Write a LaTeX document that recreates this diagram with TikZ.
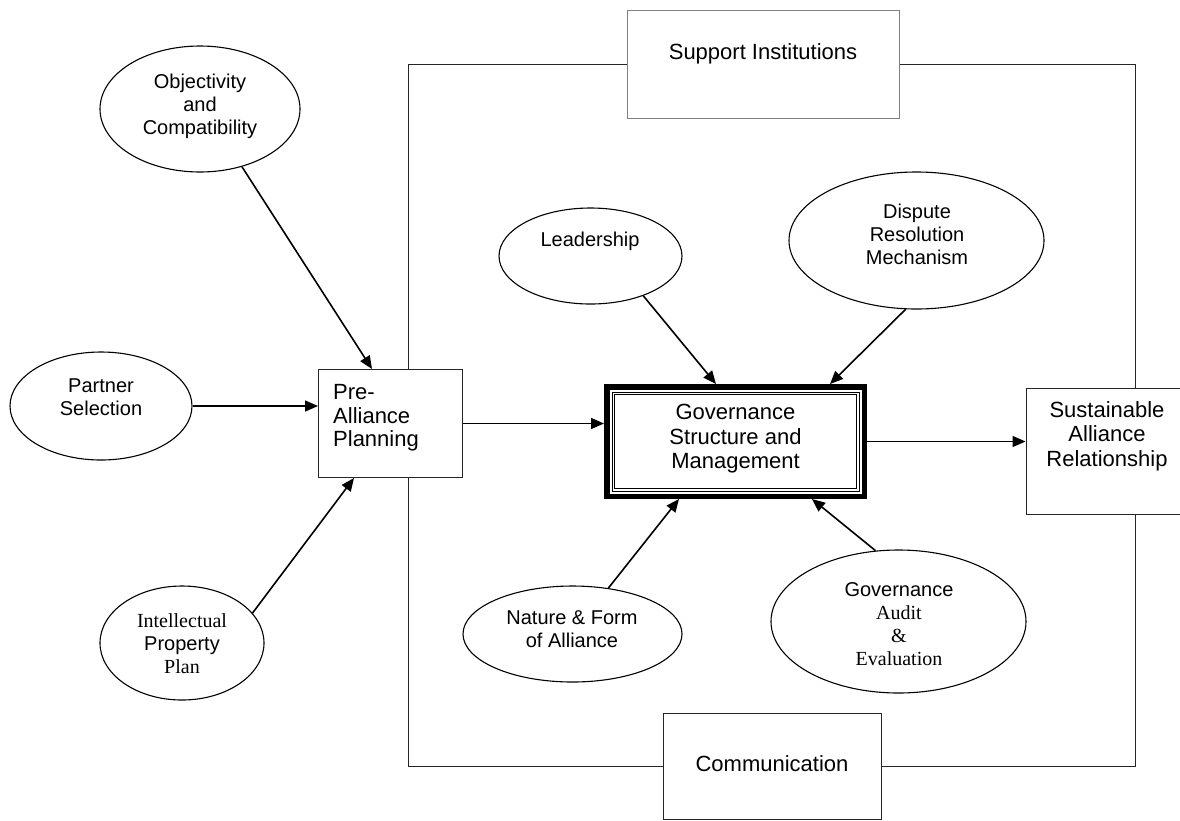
\documentclass[tikz,border=0pt]{standalone}
\usepackage{fontspec}
\setmainfont{Liberation Sans}
\newfontfamily\tnrfont{Liberation Serif}
\usetikzlibrary{shapes.geometric,arrows.meta,calc}
\begin{document}
\begin{tikzpicture}[x=1pt,y=-1pt,
  oval/.style={ellipse,draw=black,line width=1.1pt,inner sep=0pt},
  boxs/.style={rectangle,draw=black!85,line width=1pt,inner sep=0pt},
  lbl/.style={font=\fontsize{20}{23}\selectfont,align=center,inner sep=0pt},
  blbl/.style={font=\fontsize{22}{24.5}\selectfont,align=center,inner sep=0pt},
  arr/.style={line width=1.6pt,-{Triangle[length=13pt,width=11pt]}},
  loopline/.style={line width=1pt,draw=black!85}]
\useasboundingbox (0,0) rectangle (1180,820);
\clip (0,0) rectangle (1180,820);
\fill[white] (0,0) rectangle (1180,820);

% ellipses
\node[oval,minimum width=200pt,minimum height=126pt] (obj) at (200,109) {};
\node[lbl] (objt) at (200,106) {Objectivity\\and\\Compatibility};
\node[oval,minimum width=182pt,minimum height=108pt] (part) at (101,406) {};
\node[lbl] (partt) at (101,397) {Partner\\Selection};
\node[oval,minimum width=164pt,minimum height=114pt] (ip) at (182,643) {};
\node[lbl] (ipt) at (182,644) {{\tnrfont Intellectual}\\Property\\{\tnrfont Plan}};
\node[oval,minimum width=183pt,minimum height=96pt] (lead) at (590.5,256) {};
\node[lbl] (leadt) at (590,241) {Leadership};
\node[oval,minimum width=255pt,minimum height=137pt] (disp) at (916.5,240.5) {};
\node[lbl] (dispt) at (917,234) {Dispute\\Resolution\\Mechanism};
\node[oval,minimum width=219pt,minimum height=96pt] (nat) at (572.5,634) {};
\node[lbl] (natt) at (572,629) {Nature \& Form\\of Alliance};
\node[oval,minimum width=255pt,minimum height=143pt] (aud) at (898.5,621.5) {};
\node[lbl] (audt) at (899,624) {Governance\\{\tnrfont Audit}\\{\tnrfont \&}\\{\tnrfont Evaluation}};

% boxes
\node[boxs,minimum width=144pt,minimum height=108pt] (pre) at (390.5,423.5) {};
\node[blbl,align=left,anchor=west,font=\fontsize{22}{23.5}\selectfont] (pret) at (333,418) {Pre-\\Alliance\\Planning};
\node[boxs,draw=black!50,minimum width=272pt,minimum height=108pt] (sup) at (763,64) {};
\node[blbl] (supt) at (763,54) {Support Institutions};
\node[boxs,minimum width=162pt,minimum height=126pt] (sus) at (1107,451) {};
\node[blbl] (sust) at (1107,436) {Sustainable\\Alliance\\Relationship};
\node[boxs,minimum width=218pt,minimum height=106pt] (com) at (772,766) {};
\node[blbl] (comt) at (772,764) {Communication};

% governance box
\node[rectangle,draw=black,line width=5.5pt,inner sep=0pt,minimum width=257.5pt,minimum height=109.5pt] (gov) at (735.5,441.5) {};
\draw[line width=0.9pt] ($(gov.north west)+(8,8)$) rectangle ($(gov.south east)+(-8,-8)$);
\draw[line width=0.9pt] ($(gov.north west)+(10.5,10.5)$) rectangle ($(gov.south east)+(-10.5,-10.5)$);
\node[blbl] (govt) at (735.5,439) {Governance\\Structure and\\Management};

% loop lines
\draw[loopline] (sup.west) -| ($(pre.north)+(17.5,0)$);
\draw[loopline] ($(pre.south)+(17.5,0)$) |- (com.west);
\draw[loopline] (sup.east) -| ($(sus.north)+(28,0)$);
\draw[loopline] (com.east) -| ($(sus.south)+(28,0)$);

% arrows
\draw[arr] (obj.-54) -- ($(pre.north)+(-18.5,0)$);
\draw[arr] (part.east) -- (part.east -| pre.west);
\draw[arr] (ip.23) -- ($(pre.south)+(-36.5,0)$);
\draw[arr] (pre.east) -- (pre.east -| gov.west);
\draw[arr] (lead.-37) -- ($(gov.north)+(-19.5,0)$);
\draw[arr] (disp.-99) -- ($(gov.north)+(94.5,0)$);
\draw[arr] (nat.52) -- ($(gov.south)+(-56.5,0)$);
\draw[arr] (aud.108) -- ($(gov.south)+(76.5,0)$);
\draw[arr] (gov.east) -- (gov.east -| sus.west);
\end{tikzpicture}
\end{document}
